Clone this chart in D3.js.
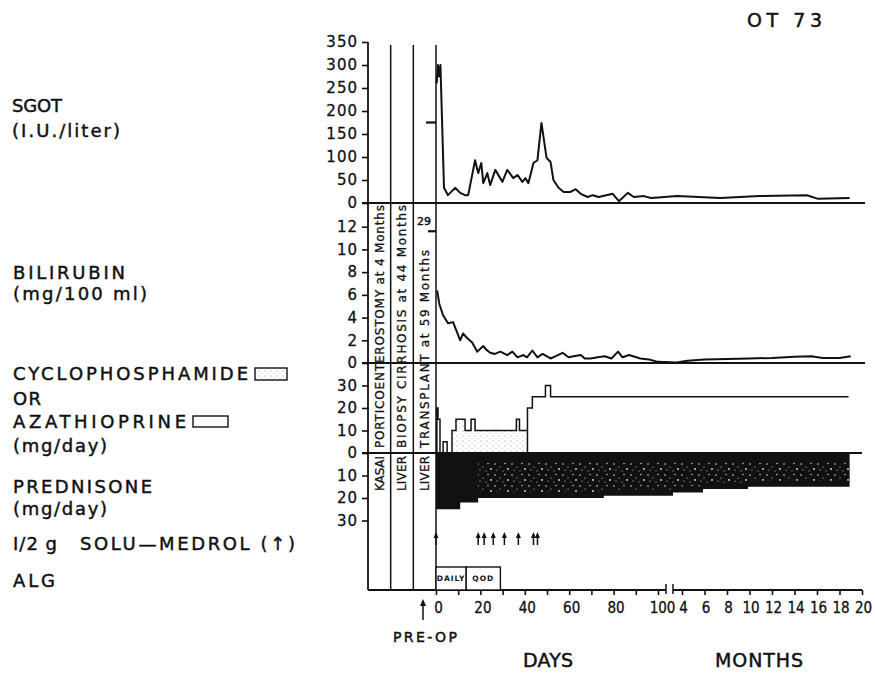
<!DOCTYPE html>
<html>
<head>
<meta charset="utf-8">
<script src="https://cdn.jsdelivr.net/npm/d3@7"></script>
<style>
  body { margin: 0; background: #fff; }
  svg { font-family: "DejaVu Sans", sans-serif; }
  .tick text { font-family: "DejaVu Sans", sans-serif; font-size: 15px; letter-spacing: 1px; fill: #111; stroke: #111; stroke-width: 0.3; }
  .tick line { stroke: #111; stroke-width: 1.6; }
  .bottom .tick text { font-family: "DejaVu Sans Condensed", "DejaVu Sans", sans-serif; letter-spacing: 0; }
  .lbl { fill: #111; stroke: #111; stroke-width: 0.45; }
</style>
</head>
<body>
<svg id="chart" width="875" height="673"></svg>
<script>
// ---- values ----
// SGOT (I.U./liter): [day, value] then [month, value]
const sgotDays = [[0.3,260],[0.9,300],[1.4,275],[2.0,300],[3.6,33],[5.4,17],[8.6,33],[10.9,22],[13.1,17],[14.5,17],
  [17.6,93],[19.0,65],[20.4,87],[21.3,43],[23.1,65],[24.4,39],[26.7,72],[29.9,46],[32.1,72],[34.8,54],[36.7,61],
  [38.9,46],[40.3,54],[41.6,43],[43.9,87],[45.7,93],[47.5,174],[49.8,98],[51.6,89],[52.9,50],[55.2,33],[57.5,24],
  [60.6,24],[62.9,30],[65.2,20],[68.3,13],[70.6,17],[73.3,13],[79.6,20],[82.4,4],[86.4,22],[89.1,13],[93.7,15],
  [96.8,11],[100,12]];
const sgotMonths = [[3.56,15],[7.4,11],[10.9,15],[15.1,17],[16.1,9],[18.9,11]];
const sgotPreOp = 175;

// Bilirubin (mg/100 ml)
const biliDays = [[0.5,6.4],[1.5,5.2],[3.2,4.2],[5.4,3.5],[7.7,3.6],[10.9,2.0],[12.2,2.6],[14,2.2],[16.3,1.8],
  [18.6,1.0],[21.3,1.5],[22.5,1.2],[24.4,0.9],[26.5,0.8],[29,1.0],[32.1,0.7],[34.4,1.0],[36.7,0.5],[39.4,0.7],
  [41,0.5],[43.4,1.1],[45.7,0.5],[48,0.8],[51.6,0.4],[54,0.6],[57,0.9],[59.7,0.5],[62,0.6],[65.2,0.7],[67,0.4],
  [69.7,0.4],[72.9,0.5],[76,0.6],[79,0.4],[82,1.0],[84,0.5],[87,0.7],[92,0.4],[96,0.3],[100,0.1]];
const biliMonths = [[3.5,0.05],[4.5,0.2],[6,0.3],[8,0.35],[10,0.4],[12,0.45],[14,0.55],[15.5,0.6],[16.5,0.45],[18,0.45],[19,0.6]];
const biliPreOp = 11.6;
const biliPreOpLabel = "29";

// Cyclophosphamide (stippled) and azathioprine (open), mg/day, step starts [day, dose]
const cycloDays = [[7.2,10],[9.0,15],[13.1,10],[15.8,15],[17.6,10],[36.2,15],[37.6,10],[41.2,10]];
const azaRun1Days = [[0.4,20],[0.9,15],[1.8,15]];
const azaRun2Days = [[3.2,5],[5.0,5]];
const azaRun3Days = [[41.2,10],[41.2,20],[43.4,25],[49.3,30],[51.6,25]];
const azaRun3Months = [[3.2,25],[18.8,25]];

// Prednisone mg/day (drawn downward)
const predDays = [[0,25],[10.9,22],[19,20],[75.6,19]];
const predMonths = [[3.2,17.5],[5.87,16],[9.87,15],[18.9,15]];

// 1/2 g Solu-Medrol pulses (days)
const soluDays = [0, 19.0, 21.7, 25.8, 30.8, 37.1, 43.9, 45.7];

// ALG courses
const algNames = ["DAILY", "QOD"];
const algStart = [0, 13.6];
const algEnd = [13.6, 29];

// history columns
const historyTop = ["PORTICOENTEROSTOMY at 4 Months", "BIOPSY CIRRHOSIS at 44 Months", "TRANSPLANT at 59 Months"];
const historyBottom = ["KASAI", "LIVER", "LIVER"];

// ticks
const sgotTicks = [0,50,100,150,200,250,300,350];
const biliTicks = [0,2,4,6,8,10,12];
const drugTicks = [0,10,20,30];
const predTicks = [10,20,30];
const dayTicks = [0,10,20,30,40,50,60,70,80,90,100];
const dayLabels = [0,20,40,60,80,100];
const monthTicks = [4,6,8,10,12,14,16,18,20];

const svg = d3.select("#chart");
const ink = "#111";

// ---- scales ----
const xDay = d3.scaleLinear().domain([0, 100]).range([436, 658]);
const xMon = d3.scaleLinear().domain([4, 20]).range([682, 862]);
const ySgot = d3.scaleLinear().domain([0, 350]).range([203, 42]);
const yBili = d3.scaleLinear().domain([0, 14]).range([363, 204]);
const yDrug = d3.scaleLinear().domain([0, 40]).range([453, 363]);
const yPred = d3.scaleLinear().domain([0, 30]).range([453, 520.5]);
const xCol = d3.scaleBand().domain([0, 1, 2]).range([368, xDay(0)]);

const pts = (days, months) => days.map(p => [xDay(p[0]), p[1]])
  .concat((months || []).map(p => [xMon(p[0]), p[1]]));

// ---- patterns ----
const defs = svg.append("defs");
const stip = defs.append("pattern").attr("id", "stipple")
  .attr("patternUnits", "userSpaceOnUse").attr("width", 6).attr("height", 5);
stip.append("rect").attr("width", 6).attr("height", 5).attr("fill", "#fff");
stip.append("circle").attr("cx", 1).attr("cy", 1).attr("r", 0.6).attr("fill", "#888");
stip.append("circle").attr("cx", 4).attr("cy", 3.5).attr("r", 0.5).attr("fill", "#aaa");
const speck = defs.append("pattern").attr("id", "speck")
  .attr("patternUnits", "userSpaceOnUse").attr("width", 17).attr("height", 11);
[[2,2,0.8],[7,5,0.6],[12,1.5,0.7],[15,7,0.9],[4,8,0.6],[10,9,0.5]].forEach(c =>
  speck.append("circle").attr("cx", c[0]).attr("cy", c[1]).attr("r", c[2]).attr("fill", "#ddd"));

// ---- drug panel ----
const drugArea = d3.area().x(p => p[0]).y0(yDrug(0)).y1(p => yDrug(p[1])).curve(d3.curveStepAfter);
const drugLine = d3.line().x(p => p[0]).y(p => yDrug(p[1])).curve(d3.curveStepAfter);
svg.append("path").attr("d", drugArea(pts(cycloDays)))
  .attr("fill", "url(#stipple)").attr("stroke", ink).attr("stroke-width", 1.5);
[pts(azaRun1Days), pts(azaRun2Days)].forEach(run =>
  svg.append("path").attr("d", drugArea(run))
    .attr("fill", "#fff").attr("stroke", ink).attr("stroke-width", 1.5));
svg.append("path").attr("d", drugLine(pts(azaRun3Days, azaRun3Months)))
  .attr("fill", "none").attr("stroke", ink).attr("stroke-width", 1.5);

// prednisone, downward
const predPts = pts(predDays, predMonths);
const predArea = d3.area().x(p => p[0]).y0(yPred(0)).y1(p => yPred(p[1])).curve(d3.curveStepAfter);
svg.append("path").attr("d", predArea(predPts)).attr("fill", ink);
const speckArea = d3.area().x(p => p[0]).y0(yPred(4)).y1(p => yPred(p[1]) - 6).curve(d3.curveStepAfter);
svg.append("path").attr("d", speckArea(predPts.slice(2))).attr("fill", "url(#speck)");

// ---- lab curves ----
const line = d3.line().x(p => p[0]).y(p => p[1]);
svg.append("path")
  .attr("d", line(pts(sgotDays, sgotMonths).map(p => [p[0], ySgot(p[1])])))
  .attr("fill", "none").attr("stroke", ink).attr("stroke-width", 2).attr("stroke-linejoin", "round");
svg.append("path")
  .attr("d", line(pts(biliDays, biliMonths).map(p => [p[0], yBili(p[1])])))
  .attr("fill", "none").attr("stroke", ink).attr("stroke-width", 2).attr("stroke-linejoin", "round");

// pre-op marks
svg.append("line").attr("x1", xDay(0) - 10).attr("x2", xDay(0))
  .attr("y1", ySgot(sgotPreOp)).attr("y2", ySgot(sgotPreOp)).attr("stroke", ink).attr("stroke-width", 2.2);
svg.append("line").attr("x1", xDay(0) - 8).attr("x2", xDay(0))
  .attr("y1", yBili(biliPreOp)).attr("y2", yBili(biliPreOp)).attr("stroke", ink).attr("stroke-width", 2.2);
svg.append("text").attr("class", "lbl").attr("x", xDay(0) - 19).attr("y", yBili(biliPreOp) - 6)
  .attr("font-size", 11).text(biliPreOpLabel);

// ---- frame lines ----
const right = 865;
[ySgot(0), yBili(0)].forEach(y =>
  svg.append("line").attr("x1", 362).attr("x2", right).attr("y1", y).attr("y2", y)
    .attr("stroke", ink).attr("stroke-width", 1.8));
svg.append("line").attr("x1", 362).attr("x2", 862).attr("y1", yDrug(0)).attr("y2", yDrug(0))
  .attr("stroke", ink).attr("stroke-width", 1.8);
svg.append("line").attr("x1", 368).attr("x2", 368).attr("y1", 42).attr("y2", 590)
  .attr("stroke", ink).attr("stroke-width", 1.8);
[1, 2].forEach(i =>
  svg.append("line").attr("x1", xCol(i)).attr("x2", xCol(i)).attr("y1", 45).attr("y2", 590)
    .attr("stroke", ink).attr("stroke-width", 1.5));
svg.append("line").attr("x1", xDay(0)).attr("x2", xDay(0)).attr("y1", 45).attr("y2", 590)
  .attr("stroke", ink).attr("stroke-width", 1.5);

// bottom axis with break
svg.append("line").attr("x1", 368).attr("x2", 666).attr("y1", 590).attr("y2", 590)
  .attr("stroke", ink).attr("stroke-width", 1.8);
svg.append("line").attr("x1", 673).attr("x2", xMon(20)).attr("y1", 590).attr("y2", 590)
  .attr("stroke", ink).attr("stroke-width", 1.8);
[666, 673].forEach(x =>
  svg.append("line").attr("x1", x).attr("x2", x).attr("y1", 584).attr("y2", 594)
    .attr("stroke", ink).attr("stroke-width", 1.5));

// ---- axes ----
function leftAxis(scale, ticks) {
  const g = svg.append("g").attr("transform", "translate(368,0)")
    .call(d3.axisLeft(scale).tickValues(ticks).tickSize(6).tickPadding(4));
  g.select(".domain").remove();
}
leftAxis(ySgot, sgotTicks);
leftAxis(yBili, biliTicks);
leftAxis(yDrug, drugTicks);
leftAxis(yPred, predTicks);

const gDay = svg.append("g").attr("class", "bottom").attr("transform", "translate(0,590)")
  .call(d3.axisBottom(xDay).tickValues(dayTicks).tickSize(5).tickPadding(7)
    .tickFormat(d => dayLabels.includes(d) ? d : ""));
gDay.select(".domain").remove();
gDay.selectAll(".tick text").attr("dx", d => d === 100 ? 4 : 2);

const gMon = svg.append("g").attr("class", "bottom").attr("transform", "translate(0,590)")
  .call(d3.axisBottom(xMon).tickValues(monthTicks).tickSize(5).tickPadding(7));
gMon.select(".domain").remove();
gMon.selectAll(".tick text").attr("dx", 1);

// ---- Solu-Medrol arrows ----
soluDays.forEach(d => {
  const x = xDay(d);
  svg.append("line").attr("x1", x).attr("x2", x).attr("y1", 545).attr("y2", 535)
    .attr("stroke", ink).attr("stroke-width", 1.5);
  svg.append("path").attr("d", `M${x - 2.5},538 L${x},532 L${x + 2.5},538 Z`).attr("fill", ink);
});

// ---- ALG boxes ----
algNames.forEach((name, i) => {
  const x0 = xDay(algStart[i]), x1 = xDay(algEnd[i]);
  svg.append("rect").attr("x", x0).attr("y", 567).attr("width", x1 - x0).attr("height", 23)
    .attr("fill", "#fff").attr("stroke", ink).attr("stroke-width", 1.4);
  svg.append("text").attr("x", (x0 + x1) / 2).attr("y", 581).attr("text-anchor", "middle")
    .attr("font-size", 7.5).attr("letter-spacing", 1).attr("font-weight", "bold").attr("fill", ink).text(name);
});

// ---- history column texts ----
historyTop.forEach((t, i) => {
  const cx = xCol(i) + xCol.bandwidth() / 2;
  const len = [243, 243, 198][i];
  svg.append("text").attr("class", "lbl").attr("transform", `translate(${cx},448) rotate(-90)`)
    .attr("dy", "0.36em").attr("font-size", 12).style("stroke-width", 0.3)
    .attr("textLength", len).attr("lengthAdjust", "spacing").text(t);
  svg.append("text").attr("class", "lbl").attr("transform", `translate(${cx},491) rotate(-90)`)
    .attr("dy", "0.36em").attr("font-size", 12).style("stroke-width", 0.3)
    .attr("textLength", 35).attr("lengthAdjust", "spacing").text(historyBottom[i]);
});

// ---- row labels ----
const rowLabels = ["SGOT", "(I.U./liter)", "BILIRUBIN", "(mg/100 ml)", "CYCLOPHOSPHAMIDE", "OR",
  "AZATHIOPRINE", "(mg/day)", "PREDNISONE", "(mg/day)", "I/2 g", "SOLU\u2014MEDROL (\u2191)", "ALG"];
const rowLayout = [[12,112,50],[12,137,108],[13,279,112],[13,300,134],[13,380,235],[13,405,28],
  [13,428,173],[13,452,94],[13,493,139],[13,515,94],[13,550,44],[80,550,215],[13,587,42]];
rowLabels.forEach((t, i) => {
  const [x, y, w] = rowLayout[i];
  svg.append("text").attr("class", "lbl").attr("x", x).attr("y", y).attr("font-size", 18)
    .attr("textLength", w).attr("lengthAdjust", "spacing").text(t);
});

// legend swatches
svg.append("rect").attr("x", 255).attr("y", 368).attr("width", 32).attr("height", 12)
  .attr("fill", "url(#stipple)").attr("stroke", ink).attr("stroke-width", 1.4);
svg.append("rect").attr("x", 193).attr("y", 416).attr("width", 35).attr("height", 11)
  .attr("fill", "#fff").attr("stroke", ink).attr("stroke-width", 1.4);

// ---- footer texts ----
svg.append("line").attr("x1", 423).attr("x2", 423).attr("y1", 620).attr("y2", 604)
  .attr("stroke", ink).attr("stroke-width", 1.5);
svg.append("path").attr("d", "M420,606 L423,599 L426,606 Z").attr("fill", ink);
svg.append("text").attr("class", "lbl").attr("x", 393).attr("y", 642).attr("font-size", 14)
  .attr("textLength", 64).attr("lengthAdjust", "spacing").text("PRE-OP");
svg.append("text").attr("class", "lbl").attr("x", 523).attr("y", 667).attr("font-size", 19)
  .attr("textLength", 50).attr("lengthAdjust", "spacing").text("DAYS");
svg.append("text").attr("class", "lbl").attr("x", 715).attr("y", 667).attr("font-size", 19)
  .attr("textLength", 88).attr("lengthAdjust", "spacing").text("MONTHS");
svg.append("text").attr("class", "lbl").attr("x", 747).attr("y", 27).attr("font-size", 19)
  .attr("textLength", 75).attr("lengthAdjust", "spacing").text("OT 73");
</script>
</body>
</html>
